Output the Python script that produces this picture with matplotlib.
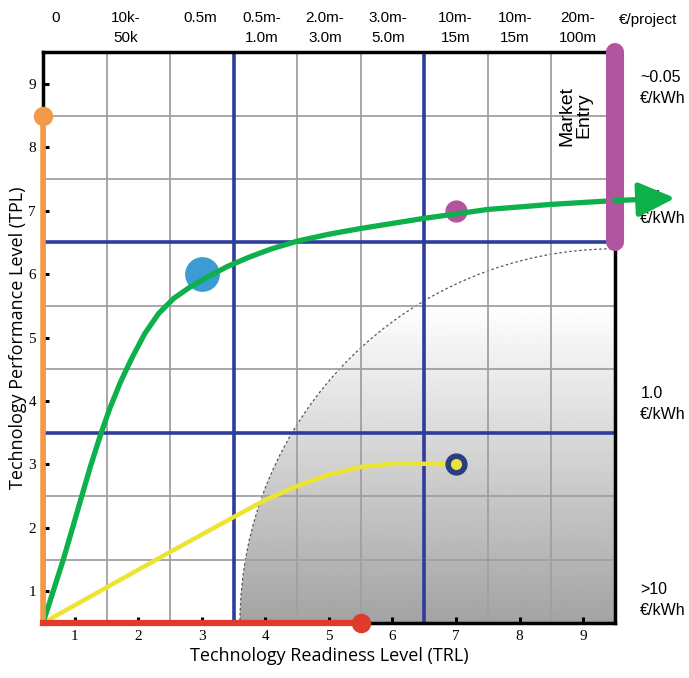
import numpy as np
import matplotlib
matplotlib.use("Agg")
import matplotlib.pyplot as plt
from matplotlib.patches import Ellipse

# tick values
trl_ticks = [1, 2, 3, 4, 5, 6, 7, 8, 9]
tpl_ticks = [1, 2, 3, 4, 5, 6, 7, 8, 9]

# cost per project labels along the top
cost_x = [0.7, 1.8, 2.97, 3.95, 4.94, 5.93, 6.99, 7.93, 8.92]
cost_labels = ["0", "10k-\n50k", "0.5m", "0.5m-\n1.0m", "2.0m-\n3.0m",
               "3.0m-\n5.0m", "10m-\n15m", "10m-\n15m", "20m-\n100m"]

# energy cost labels on the right
energy_y = [8.94, 7.05, 3.96, 0.87]
energy_labels = ["~0.05\n€/kWh", "0.1\n€/kWh", "1.0\n€/kWh", ">10\n€/kWh"]

# green pathway
green_x = [0.5, 0.82, 1.11, 1.25, 1.4, 1.55, 1.72, 1.9, 2.1, 2.32, 2.56, 2.82, 3.1,
           3.4, 3.75, 4.1, 4.5, 5.0, 5.5, 6.0, 6.5, 7.0, 7.5, 8.0, 8.5, 9.0, 9.5, 10.45]
green_y = [0.5, 1.5, 2.5, 2.98, 3.45, 3.88, 4.3, 4.68, 5.06, 5.38, 5.62, 5.8, 5.96,
           6.12, 6.27, 6.4, 6.52, 6.63, 6.72, 6.8, 6.88, 6.95, 7.02, 7.06, 7.1, 7.13, 7.16, 7.2]

# yellow pathway
yellow_x = [0.5, 1.5, 2.5, 3.5, 4.0, 4.5, 5.0, 5.5, 6.0, 6.5, 7.0]
yellow_y = [0.5, 1.06, 1.62, 2.17, 2.44, 2.66, 2.84, 2.96, 3.01, 3.01, 3.0]

# orange (TPL only) and red (TRL only) pathways
orange_x = [0.5, 0.5]
orange_y = [0.5, 8.5]
red_x = [0.5, 5.5]
red_y = [0.5, 0.5]

# single points
blue_pt = (3, 6)
purple_pt = (7, 7)
navy_pt = (7, 3)

# market entry bar
market_x = 9.5
market_y = [6.5, 9.5]

# boundary of shaded region (quarter ellipse around bottom right corner)
shade_center = (9.5, 0.5)
shade_radius = (5.9, 5.9)

fig = plt.figure(figsize=(6.89, 6.78), dpi=100)
ax = fig.add_axes([0.0624, 0.0811, 0.830, 0.842])
ax.set_xlim(0.5, 9.5)
ax.set_ylim(0.5, 9.5)

# shaded gradient region
grad = np.linspace(0.64, 1.0, 256).reshape(-1, 1)
img = ax.imshow(np.repeat(grad, 2, axis=1), cmap="gray", vmin=0, vmax=1,
                extent=[3.5, 9.5, 0.5, 5.5], origin="lower", aspect="auto", zorder=0)
img_top = ax.imshow(np.ones((2, 2)), cmap="gray", vmin=0, vmax=1,
                    extent=[3.5, 9.5, 5.5, 6.5], origin="lower", aspect="auto", zorder=0)
clip = Ellipse(shade_center, 2 * shade_radius[0], 2 * shade_radius[1], transform=ax.transData)
img.set_clip_path(clip)
img_top.set_clip_path(clip)
ax.add_patch(Ellipse(shade_center, 2 * shade_radius[0], 2 * shade_radius[1],
                     fill=False, ls=(0, (2, 2)), lw=0.9, color="#555555", zorder=1))

# grid
for v in [1.5, 2.5, 4.5, 5.5, 7.5, 8.5]:
    ax.axvline(v, color="#a0a0a0", lw=1.3, zorder=1)
    ax.axhline(v, color="#a0a0a0", lw=1.3, zorder=1)
for v in [3.5, 6.5]:
    ax.axvline(v, color="#2e3c9c", lw=2.6, zorder=2)
    ax.axhline(v, color="#2e3c9c", lw=2.6, zorder=2)

# spines and ticks
for s in ax.spines.values():
    s.set_linewidth(2.5)
    s.set_color("black")
    s.set_zorder(3)
ax.set_xticks(trl_ticks)
ax.set_yticks(tpl_ticks)
ax.tick_params(direction="in", length=4, width=2.2, labelsize=11, pad=5)
for lab in ax.get_xticklabels() + ax.get_yticklabels():
    lab.set_family("Liberation Serif")

ax.set_xlabel("Technology Readiness Level (TRL)", fontsize=13, family="Open Sans", labelpad=3)
ax.set_ylabel("Technology Performance Level (TPL)", fontsize=13, family="Open Sans", labelpad=1)

# pathways
ax.plot(yellow_x, yellow_y, color="#ece432", lw=3.2, zorder=5, solid_capstyle="round")
ax.plot(green_x[:-1], green_y[:-1], color="#0db04b", lw=3.8, zorder=6, clip_on=False,
        solid_joinstyle="round")
ax.annotate("", xy=(green_x[-1], green_y[-1]), xytext=(green_x[-2], green_y[-2]),
            arrowprops=dict(arrowstyle="-|>,head_length=1.5,head_width=0.7",
                            mutation_scale=15, color="#0db04b", lw=3.8,
                            shrinkA=0, shrinkB=0),
            annotation_clip=False, zorder=9)
ax.plot(orange_x, orange_y, color="#f39a4a", lw=4, zorder=7, clip_on=False)
ax.plot(orange_x[-1], orange_y[-1], "o", ms=13, color="#f39a4a", zorder=8, clip_on=False)
ax.plot(red_x, red_y, color="#e03a2a", lw=4.5, zorder=7, clip_on=False)
ax.plot(red_x[-1], red_y[-1], "o", ms=13, color="#e03a2a", zorder=8, clip_on=False)

# points
ax.plot(*blue_pt, "o", ms=24, color="#3d9bd3", zorder=4)
ax.plot(*purple_pt, "o", ms=15, color="#b2559f", zorder=4)
ax.plot(*navy_pt, "o", ms=15, color="#2b3f80", zorder=6)
ax.plot(*navy_pt, "o", ms=7, color="#ece432", zorder=7)

# market entry bar
ax.plot([market_x, market_x], market_y, color="#b2559f", lw=13,
        solid_capstyle="round", zorder=8, clip_on=False)
ax.text(8.88, 8.5, "Market\nEntry", rotation=90, ha="center", va="center",
        fontsize=14, family="Liberation Sans", linespacing=0.95, zorder=9)

# top labels, one line at a time
top_line_y = [10.04, 9.72]
for x, lab in zip(cost_x, cost_labels):
    for line, y in zip(lab.split("\n"), top_line_y):
        ax.text(x, y, line, ha="center", va="center",
                fontsize=11, family="Liberation Sans")
ax.text(10.02, 10.0, "€/project", ha="center", va="center", fontsize=11,
        family="Liberation Sans")

# right labels
for y, lab in zip(energy_y, energy_labels):
    ax.text(9.9, y, lab, ha="left", va="center", fontsize=11.5,
            family="Liberation Sans", linespacing=1.5)

fig.savefig("out.png", dpi=100)
